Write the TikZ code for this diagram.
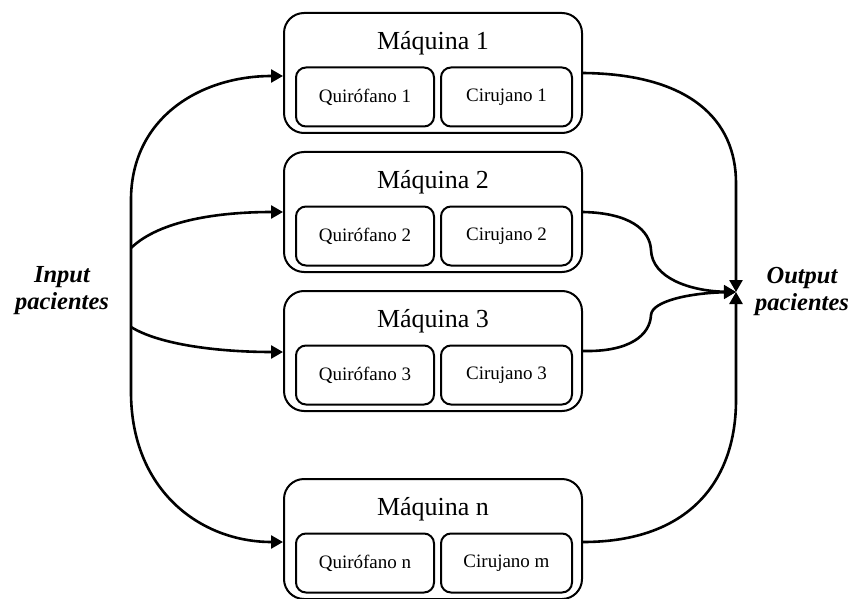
\documentclass[tikz,border=0pt]{standalone}
\usepackage{fontspec}
\setmainfont{Liberation Serif}
\usetikzlibrary{arrows.meta}

\begin{document}
\begin{tikzpicture}[x=1pt, y=-1pt, every node/.style={inner sep=0pt}]
  \tikzset{
    maq/.style={draw, line width=2pt, rounded corners=20pt, minimum width=298pt, minimum height=120pt},
    sub/.style={draw, line width=2pt, rounded corners=10pt, minimum height=59pt, font=\fontsize{19}{22}\selectfont},
    tit/.style={font=\fontsize{26}{30}\selectfont},
    lab/.style={align=center, font=\fontsize{24.5}{27}\selectfont\bfseries\itshape},
    wire/.style={line width=2.6pt},
    flow/.style={wire, -{Triangle[length=12pt,width=13pt]}}
  }
  \useasboundingbox (0,0) rectangle (854,599);
  % machines
  \node[maq] (m1) at (433,73) {};
  \node[tit] (t1) at (433,43) {Máquina 1};
  \node[sub, minimum width=138pt] (q1) at (365,97) {Quirófano 1};
  \node[sub, minimum width=131pt] (c1) at (506.5,97) {Cirujano 1};
  \node[maq] (m2) at (433,212) {};
  \node[tit] (t2) at (433,182) {Máquina 2};
  \node[sub, minimum width=138pt] (q2) at (365,236) {Quirófano 2};
  \node[sub, minimum width=131pt] (c2) at (506.5,236) {Cirujano 2};
  \node[maq] (m3) at (433,351) {};
  \node[tit] (t3) at (433,321) {Máquina 3};
  \node[sub, minimum width=138pt] (q3) at (365,375) {Quirófano 3};
  \node[sub, minimum width=131pt] (c3) at (506.5,375) {Cirujano 3};
  \node[maq] (mn) at (433,539) {};
  \node[tit] (tn) at (433,509) {Máquina n};
  \node[sub, minimum width=138pt] (qn) at (365,563) {Quirófano n};
  \node[sub, minimum width=131pt] (cn) at (506.5,563) {Cirujano m};
  % labels
  \node[lab] (inp) at (62,291) {Input\\pacientes};
  \node[lab] (outp) at (802,291) {Output\\pacientes};
  % input side
  \coordinate (ttop) at (131,200);
  \coordinate (tbot) at (131,392);
  \coordinate (tb2) at (131,248);
  \coordinate (tb3) at (131,327);
  \draw[wire, {Triangle[length=12pt,width=13pt]}-{Triangle[length=12pt,width=13pt]}]
    ([yshift=-3pt]m1.west) .. controls (200,76) and (131,118) .. (ttop) -- (tbot)
    .. controls (131,490) and (200,542) .. ([yshift=-3pt]mn.west);
  \draw[flow] (tb2) .. controls (160,220) and (220,212) .. (m2.west);
  \draw[flow] (tb3) .. controls (160,345) and (220,352) .. ([yshift=-1pt]m3.west);
  % output side
  \coordinate (out) at (736,292);
  \draw[flow] (m1.east) .. controls (690,74) and (736,120) .. (736,183) -- (out);
  \draw[flow] (m2.east) .. controls (630,213) and (650,230) .. (651,250)
    .. controls (652,278) and (690,291) .. (out);
  \draw[flow] (m3.east) .. controls (630,352) and (650,335) .. (651,315)
    .. controls (652,301) and (690,293) .. (out);
  \draw[flow] ([yshift=-3pt]mn.east) .. controls (690,542) and (736,480) .. (736,400) -- (out);
\end{tikzpicture}
\end{document}
